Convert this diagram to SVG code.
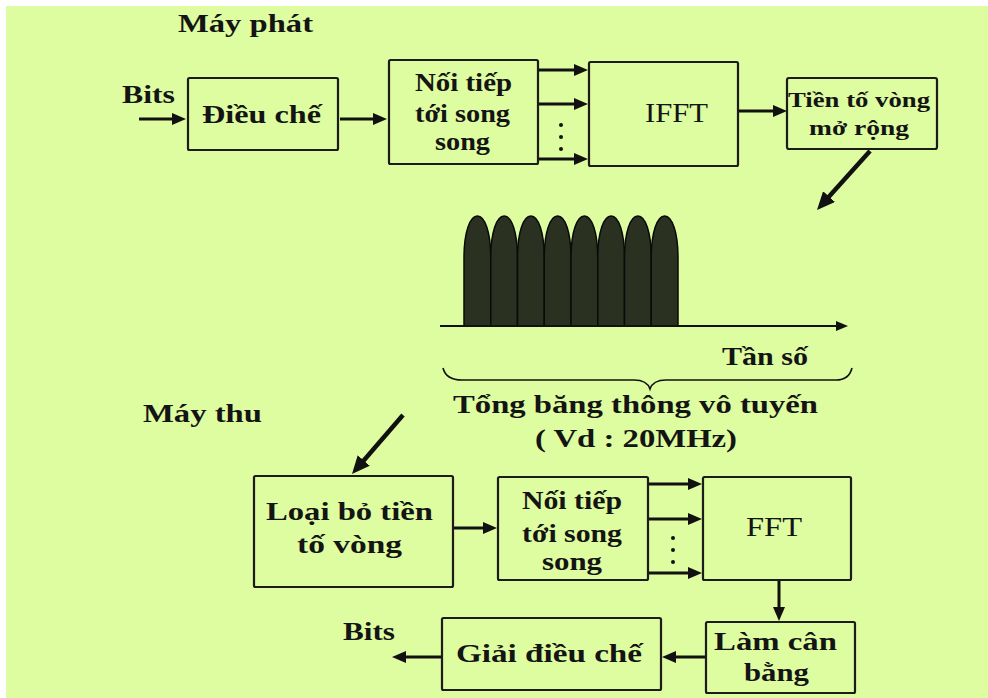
<svg xmlns="http://www.w3.org/2000/svg" width="988" height="698" viewBox="0 0 988 698">
<defs>
<style>
.bg{fill:#DEFCA0}
.box{fill:none;stroke:#1c1c1c;stroke-width:2.2}
.t{font-family:"Liberation Serif","Times New Roman",serif;font-weight:bold;font-size:25px;fill:#141414}
.s{font-size:21px}
.r{font-weight:normal;font-size:27px}
.ln{stroke:#111;stroke-width:3;fill:none}
.lt{stroke:#111;stroke-width:2;fill:none}
.lb{stroke:#111;stroke-width:4.5;fill:none}
.dot{fill:#111}
.lobe{fill:#2A3121;stroke:#0a0a0a;stroke-width:1.5}
</style>
<marker id="ah" markerUnits="userSpaceOnUse" markerWidth="14" markerHeight="12" refX="4" refY="6" orient="auto"><path d="M0,0 L14,6 L0,12 Z" fill="#111"/></marker>
<marker id="ahb" markerUnits="userSpaceOnUse" markerWidth="18" markerHeight="16" refX="5" refY="8" orient="auto"><path d="M0,0 L18,8 L0,16 Z" fill="#111"/></marker>
<marker id="ahs" markerUnits="userSpaceOnUse" markerWidth="12" markerHeight="10" refX="3" refY="5" orient="auto"><path d="M0,0 L12,5 L0,10 Z" fill="#111"/></marker>
<path id="lobeShape" d="M0,110 V42 C0,16 6,0 13.4,0 C20.8,0 26.75,16 26.75,42 V110 Z"/>
</defs>
<rect x="0" y="0" width="988" height="698" fill="#FFFFFF"/>
<rect class="bg" x="6" y="6" width="982" height="692"/>

<text class="t" x="178" y="32" textLength="135" lengthAdjust="spacingAndGlyphs">Máy phát</text>
<text class="t" x="122" y="103" textLength="53" lengthAdjust="spacingAndGlyphs">Bits</text>
<text class="t" x="143" y="422" textLength="119" lengthAdjust="spacingAndGlyphs">Máy thu</text>
<text class="t" x="343" y="640" textLength="52" lengthAdjust="spacingAndGlyphs">Bits</text>

<g id="dieuche">
<rect class="box" x="188" y="78" width="150" height="72" rx="1.5"/>
<text class="t" x="202" y="123" textLength="119" lengthAdjust="spacingAndGlyphs">Điều chế</text>
</g>
<g id="noitiep1">
<rect class="box" x="389" y="60" width="149" height="104" rx="1.5"/>
<text class="t" x="415" y="91" textLength="97" lengthAdjust="spacingAndGlyphs">Nối tiếp</text>
<text class="t" x="415" y="122" textLength="95" lengthAdjust="spacingAndGlyphs">tới song</text>
<text class="t" x="435" y="150" textLength="55" lengthAdjust="spacingAndGlyphs">song</text>
</g>
<g id="ifft">
<rect class="box" x="589" y="62" width="149" height="104" rx="1.5"/>
<text class="t r" x="645" y="122" textLength="63" lengthAdjust="spacingAndGlyphs">IFFT</text>
</g>
<g id="tiento">
<rect class="box" x="787" y="78" width="150" height="71" rx="2"/>
<text class="t s" x="788" y="107" textLength="142" lengthAdjust="spacingAndGlyphs">Tiền tố vòng</text>
<text class="t s" x="809" y="135" textLength="100" lengthAdjust="spacingAndGlyphs">mở rộng</text>
</g>

<g id="spectrum">
<use href="#lobeShape" class="lobe" x="464" y="216"/>
<use href="#lobeShape" class="lobe" x="490.75" y="216"/>
<use href="#lobeShape" class="lobe" x="517.5" y="216"/>
<use href="#lobeShape" class="lobe" x="544.25" y="216"/>
<use href="#lobeShape" class="lobe" x="571" y="216"/>
<use href="#lobeShape" class="lobe" x="597.75" y="216"/>
<use href="#lobeShape" class="lobe" x="624.5" y="216"/>
<use href="#lobeShape" class="lobe" x="651.25" y="216"/>
<line class="lt" x1="440" y1="326" x2="839" y2="326" marker-end="url(#ahs)"/>
<text class="t" x="722" y="365" textLength="86" lengthAdjust="spacingAndGlyphs">Tần số</text>
<path class="lt" style="stroke-width:1.6" d="M443,368 Q446,380 462,380 L634,380 Q647,380 650,389 Q653,380 666,380 L836,380 Q849,380 852,368"/>
<text class="t" x="453" y="413" textLength="365" lengthAdjust="spacingAndGlyphs">Tổng băng thông vô tuyến</text>
<text class="t" x="535" y="447" textLength="202" lengthAdjust="spacingAndGlyphs">( Vd : 20MHz)</text>
</g>

<g id="loaibo">
<rect class="box" x="254" y="476" width="199" height="111" rx="1.5"/>
<text class="t" x="266" y="520" textLength="167" lengthAdjust="spacingAndGlyphs">Loại bỏ tiền</text>
<text class="t" x="297" y="553" textLength="105" lengthAdjust="spacingAndGlyphs">tố vòng</text>
</g>
<g id="noitiep2">
<rect class="box" x="498" y="477" width="150" height="103" rx="1.5"/>
<text class="t" x="522" y="509" textLength="100" lengthAdjust="spacingAndGlyphs">Nối tiếp</text>
<text class="t" x="522" y="542" textLength="100" lengthAdjust="spacingAndGlyphs">tới song</text>
<text class="t" x="542" y="570" textLength="60" lengthAdjust="spacingAndGlyphs">song</text>
</g>
<g id="fft">
<rect class="box" x="703" y="477" width="148" height="103" rx="1.5"/>
<text class="t r" x="746" y="536" textLength="56" lengthAdjust="spacingAndGlyphs">FFT</text>
</g>
<g id="lamcanbang">
<rect class="box" x="706" y="622" width="149" height="71" rx="1.5"/>
<text class="t" x="714" y="650" textLength="123" lengthAdjust="spacingAndGlyphs">Làm cân</text>
<text class="t" x="744" y="681" textLength="65" lengthAdjust="spacingAndGlyphs">bằng</text>
</g>
<g id="giaidieuche">
<rect class="box" x="442" y="618" width="219" height="72" rx="1.5"/>
<text class="t" x="456" y="662" textLength="186" lengthAdjust="spacingAndGlyphs">Giải điều chế</text>
</g>

<g id="connectors">
<line class="ln" x1="139" y1="119" x2="176" y2="119" marker-end="url(#ah)"/>
<line class="ln" x1="340" y1="119" x2="377" y2="119" marker-end="url(#ah)"/>
<line class="ln" x1="539" y1="70" x2="578" y2="70" marker-end="url(#ah)"/>
<line class="ln" x1="539" y1="104" x2="578" y2="104" marker-end="url(#ah)"/>
<line class="ln" x1="539" y1="159" x2="578" y2="159" marker-end="url(#ah)"/>
<circle class="dot" cx="561" cy="125" r="2"/>
<circle class="dot" cx="561" cy="137" r="2"/>
<circle class="dot" cx="561" cy="149" r="2"/>
<line class="ln" x1="739" y1="111" x2="777" y2="111" marker-end="url(#ah)"/>
<line class="lb" x1="870" y1="151" x2="825.7" y2="200.3" marker-end="url(#ahb)"/>
<line class="lb" x1="403" y1="415" x2="360.5" y2="464.2" marker-end="url(#ahb)"/>
<line class="ln" x1="454" y1="528" x2="487" y2="528" marker-end="url(#ah)"/>
<line class="ln" x1="649" y1="484" x2="692" y2="484" marker-end="url(#ah)"/>
<line class="ln" x1="649" y1="519" x2="692" y2="519" marker-end="url(#ah)"/>
<line class="ln" x1="649" y1="573" x2="692" y2="573" marker-end="url(#ah)"/>
<circle class="dot" cx="673" cy="538" r="2"/>
<circle class="dot" cx="673" cy="550" r="2"/>
<circle class="dot" cx="673" cy="562" r="2"/>
<line class="ln" x1="779" y1="581" x2="779" y2="611" marker-end="url(#ah)"/>
<line class="ln" x1="705" y1="657" x2="672" y2="657" marker-end="url(#ah)"/>
<line class="ln" x1="441" y1="657" x2="402" y2="657" marker-end="url(#ah)"/>
</g>
</svg>
